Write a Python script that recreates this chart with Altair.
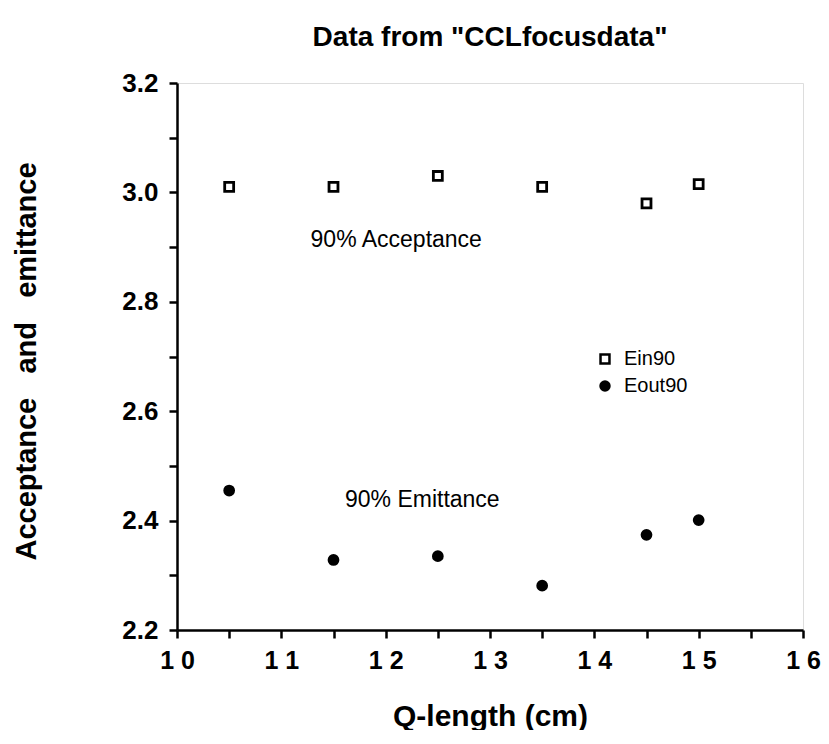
import altair as alt
import pandas as pd

q_length = [10.5, 11.5, 12.5, 13.5, 14.5, 15.0]
ein90 = [3.010, 3.010, 3.030, 3.010, 2.980, 3.015]
eout90 = [2.455, 2.328, 2.335, 2.281, 2.374, 2.401]

x_ticks = [10, 10.5, 11, 11.5, 12, 12.5, 13, 13.5, 14, 14.5, 15, 15.5, 16]
y_ticks = [2.2, 2.3, 2.4, 2.5, 2.6, 2.7, 2.8, 2.9, 3.0, 3.1, 3.2]

ann_text = ["90% Acceptance", "90% Emittance"]
ann_x = [11.28, 11.61]
ann_y = [2.913, 2.438]

rows = []
for q, a, b in zip(q_length, ein90, eout90):
    rows.append({"q": q, "v": a, "series": "Ein90"})
    rows.append({"q": q, "v": b, "series": "Eout90"})
df = pd.DataFrame(rows)
ann = pd.DataFrame({"t": ann_text, "x": ann_x, "y": ann_y})

FONT = "Liberation Sans"
SER = ["Ein90", "Eout90"]

xscale = alt.Scale(domain=[10, 16], nice=False, zero=False)
yscale = alt.Scale(domain=[2.2, 3.2], nice=False, zero=False)

xaxis = alt.Axis(
    values=x_ticks,
    labelExpr="datum.value % 1 == 0 ? substring(toString(datum.value),0,1) + ' ' + substring(toString(datum.value),1) : ''",
    grid=False, tickSize=8, tickWidth=2.5, tickColor="black",
    domainColor="black", domainWidth=2.5,
    labelFont=FONT, labelFontSize=25, labelFontWeight="bold", labelColor="black",
    labelPadding=10, labelFlush=False, labelOverlap=False,
    title="Q-length (cm)", titleFont=FONT, titleFontSize=30, titleFontWeight="bold",
    titleColor="black", titleY=86, titleBaseline="middle",
)
yaxis = alt.Axis(
    values=y_ticks,
    labelExpr="(round(datum.value*10) % 2 == 0) ? format(datum.value, '.1f') : ''",
    grid=False, tickSize=8, tickWidth=2.5, tickColor="black",
    domainColor="black", domainWidth=2.5,
    labelFont=FONT, labelFontSize=26, labelFontWeight="bold", labelColor="black",
    labelPadding=11, labelFlush=False, labelOverlap=False,
    title="Acceptance\u00a0\u00a0\u00a0and\u00a0\u00a0\u00a0emittance",
    titleFont=FONT, titleFontSize=29, titleFontWeight="bold", titleColor="black",
    titleX=-151, titleY=278, titleBaseline="middle", titleAlign="center", titleAngle=-90,
)

leg = alt.Legend(title=None, orient="none", legendX=418, legendY=266,
                 labelFont=FONT, labelFontSize=20, labelColor="black",
                 symbolStrokeWidth=2.5, symbolSize=80, labelOffset=9,
                 rowPadding=7, symbolOpacity=1)

points = alt.Chart(df).mark_point(size=80, strokeWidth=2.8, opacity=1).encode(
    x=alt.X("q:Q", scale=xscale, axis=xaxis),
    y=alt.Y("v:Q", scale=yscale, axis=yaxis),
    shape=alt.Shape("series:N", scale=alt.Scale(domain=SER, range=["square", "circle"]), legend=leg),
    fill=alt.Fill("series:N", scale=alt.Scale(domain=SER, range=["white", "black"]), legend=leg),
    stroke=alt.Stroke("series:N", scale=alt.Scale(domain=SER, range=["black", "black"]), legend=leg),
)

texts = alt.Chart(ann).mark_text(align="left", baseline="middle", font=FONT, fontSize=23, color="black").encode(
    x=alt.X("x:Q", scale=xscale),
    y=alt.Y("y:Q", scale=yscale),
    text="t:N",
)

chart = alt.layer(points, texts).properties(
    width=626, height=547,
    title=alt.Title('Data from "CCLfocusdata"', font=FONT, fontSize=28, fontWeight="bold",
                    color="black", offset=18),
    autosize=alt.AutoSizeParams(type="none"),
    padding={"left": 169, "top": 75, "right": 18, "bottom": 100},
).configure_view(stroke="black", strokeWidth=2.5).configure(background="white")

chart.save("out.html", embed_options={"renderer": "svg", "actions": False})
